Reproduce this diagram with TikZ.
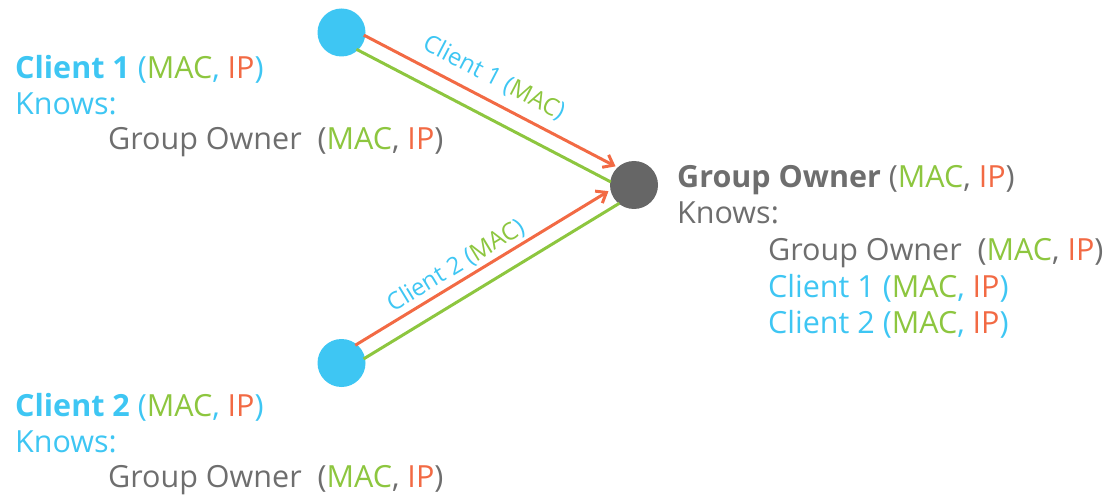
\documentclass[tikz,border=0pt]{standalone}
\usepackage{fontspec}
\setmainfont{Open Sans}
\usetikzlibrary{calc,arrows.meta}
\definecolor{cblue}{HTML}{3EC6F3}
\definecolor{cgreen}{HTML}{8DC63F}
\definecolor{corange}{HTML}{F26A44}
\definecolor{cgray}{HTML}{6E6E6E}
\definecolor{cdark}{HTML}{666666}
\newcommand{\mi}{(\textcolor{cgreen}{MAC}, \textcolor{corange}{IP})}
\begin{document}
\begin{tikzpicture}[x=1pt,y=-1pt,
  txt/.style={anchor=base west,inner sep=0pt,font=\fontsize{30.5}{36}\selectfont},
  lbl/.style={inner sep=0pt,font=\fontsize{24}{28}\selectfont,text=cblue},
  dev/.style={circle,fill=cblue,minimum size=48pt,inner sep=0pt},
  owner/.style={circle,fill=cdark,minimum size=48pt,inner sep=0pt},
  oline/.style={draw=corange,line width=3pt,-{Straight Barb[length=9pt,width=14pt,line width=3pt]}},
  gline/.style={draw=cgreen,line width=3pt}]
\useasboundingbox (0,0) rectangle (1108,497);
\node[dev] (c1) at (341.5,32.5) {};
\node[dev] (c2) at (341.5,363) {};
\node[owner] (go) at (634,185) {};
% connectors client 1
\draw[oline,shorten <=21pt,shorten >=25pt] ($(c1)!8pt!90:(go)$) -- ($(go)!8pt!-90:(c1)$);
\draw[gline,shorten <=21pt,shorten >=22pt] ($(c1)!8pt!-90:(go)$) -- ($(go)!8pt!90:(c1)$);
% connectors client 2
\draw[oline,shorten <=21pt,shorten >=25pt] ($(c2)!8pt!90:(go)$) -- ($(go)!8pt!-90:(c2)$);
\draw[gline,shorten <=21pt,shorten >=22pt] ($(c2)!8pt!-90:(go)$) -- ($(go)!8pt!90:(c2)$);
% line labels
\node[lbl,rotate=-27.4] (l1) at (494,78) {Client 1 (\textcolor{cgreen}{MAC})};
\node[lbl,rotate=31.3] (l2) at (456,266) {Client 2 (\textcolor{cgreen}{MAC})};
% client 1 text
\node[txt,text=cblue] (t1a) at (15,79) {\textbf{Client 1} \mi};
\node[txt,text=cblue] (t1b) at (15,115) {Knows:};
\node[txt,text=cgray] (t1c) at (108,150) {Group Owner\ \ \mi};
% client 2 text
\node[txt,text=cblue] (t2a) at (15,416) {\textbf{Client 2} \mi};
\node[txt,text=cblue] (t2b) at (15,452) {Knows:};
\node[txt,text=cgray] (t2c) at (108,487) {Group Owner\ \ \mi};
% group owner text
\node[txt,text=cgray] (g1) at (677,188) {\textbf{Group Owner} \mi};
\node[txt,text=cgray] (g2) at (677,224) {Knows:};
\node[txt,text=cgray] (g3) at (768,260) {Group Owner\ \ \mi};
\node[txt,text=cblue] (g4) at (768,297) {Client 1 \mi};
\node[txt,text=cblue] (g5) at (768,333) {Client 2 \mi};
\end{tikzpicture}
\end{document}
